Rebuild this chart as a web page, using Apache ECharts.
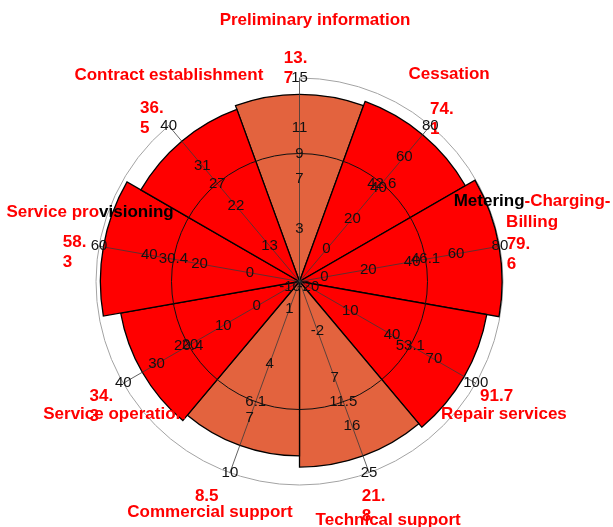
<!DOCTYPE html>
<html>
<head>
<meta charset="utf-8">
<script src="https://cdn.jsdelivr.net/npm/echarts@6/dist/echarts.min.js"></script>
<style>
  html, body { margin: 0; padding: 0; background: #fff; }
  #chart { width: 613px; height: 527px; }
</style>
</head>
<body>
<div id="chart"></div>
<script>
// data, clockwise from the top spoke
const categories = [
  'Preliminary information', 'Cessation', 'Metering-Charging-Billing',
  'Repair services', 'Technical support', 'Commercial support',
  'Service operation', 'Service provisioning', 'Contract establishment'
]
const values = [13.7, 74.1, 79.6, 91.7, 21.8, 8.5, 34.3, 58.3, 36.5]
const ringValues = [9, 42.6, 46.1, 53.1, 11.5, 6.1, 20.4, 30.4, 27]
const axisMax = [15, 80, 80, 100, 25, 10, 40, 60, 40]
const tickLabels = [
  [3, 7, 11, 15],
  [0, 20, 40, 60, 80],
  [0, 20, 40, 60, 80],
  [-20, 10, 40, 70, 100],
  [-2, 7, 16, 25],
  [1, 4, 7, 10],
  [-10, 0, 10, 20, 30, 40],
  [0, 20, 40, 60],
  [13, 22, 31, 40]
]

// layout
const CENTER = [299.5, 281.5]
const R = 203.5
const RING_R = 128
const FONT = "'Liberation Sans', Arial, sans-serif"
const RED = '#ff0000'
const ORANGE = '#e3633e'
const BAR_COLORS = [ORANGE, RED, RED, RED, ORANGE, ORANGE, RED, RED, RED]
// [angle, radius] of each label centre / left anchor
const NAME_POS = [[86.6, 262], [54.2, 255.7], [16.6, 242.7], [-33, 243.8], [-69.6, 254.4],
  [-111.2, 247.6], [-144.3, 227.7], [161.7, 220.6], [122.3, 244.4]]
const VALUE_POS = [[94.2, 213.8], [51.1, 207.9], [7.6, 209], [-32.4, 213.8], [-74.5, 233.2],
  [-116, 238.6], [-149.2, 244.5], [172.9, 238.6], [134.4, 227.8]]
const NO_WRAP = [3, 5]

const polar = []
const angleAxis = []
const radiusAxis = []
const series = []

const boldText = (color) => ({
  color, fontFamily: FONT, fontSize: 17, fontWeight: 'bold', lineHeight: 20
})

categories.forEach((name, i) => {
  const min = ringValues[i] - (axisMax[i] - ringValues[i]) * RING_R / (R - RING_R)
  polar.push({ center: CENTER, radius: [0, R] })
  angleAxis.push({
    polarIndex: i,
    type: 'category',
    data: categories.slice(i).concat(categories.slice(0, i)),
    startAngle: 90 - 40 * i,
    boundaryGap: false,
    axisLine: { show: i === 0, lineStyle: { color: '#a3a3a3', width: 1 } },
    axisTick: { show: false },
    axisLabel: { show: false },
    splitLine: { show: false },
    z: 1
  })
  radiusAxis.push({
    polarIndex: i,
    type: 'value',
    min,
    max: axisMax[i],
    startValue: min,
    axisLine: { lineStyle: { color: '#3a3a3a', width: 0.8 } },
    axisTick: { show: false },
    splitLine: { show: false },
    axisLabel: {
      customValues: tickLabels[i].concat(ringValues[i]),
      margin: 0,
      align: 'center',
      verticalAlign: 'middle',
      color: '#111',
      fontFamily: FONT,
      fontSize: 15,
      formatter: (v) => String(v)
    },
    z: 4
  })
  series.push({
    type: 'bar',
    coordinateSystem: 'polar',
    polarIndex: i,
    data: [values[i]],
    barWidth: '100%',
    itemStyle: { color: BAR_COLORS[i], borderColor: '#000', borderWidth: 1.3 },
    silent: true,
    z: 2
  })
})

// mean ring
polar.push({ center: CENTER, radius: [0, RING_R] })
angleAxis.push({
  polarIndex: polar.length - 1, type: 'value', min: 0, max: 360,
  axisLine: { lineStyle: { color: '#111', width: 1 } },
  axisTick: { show: false }, axisLabel: { show: false }, splitLine: { show: false },
  z: 4
})
radiusAxis.push({ polarIndex: polar.length - 1, type: 'value', show: false })

function addLabel(pos, text, style, z) {
  const idx = polar.length
  polar.push({ center: CENTER, radius: [0, R] })
  angleAxis.push({ polarIndex: idx, type: 'value', min: 0, max: 360, startAngle: pos[0], show: false })
  radiusAxis.push({
    polarIndex: idx, type: 'value', min: 0, max: 1,
    axisLine: { show: false }, axisTick: { show: false },
    axisLabel: { show: false }, splitLine: { show: false },
    name: text, nameLocation: 'end', nameGap: pos[1] - R,
    nameTextStyle: style, z
  })
}

function nameText(name, i) {
  if (i === 2) {
    const [a, b, c] = name.split('-')
    return '{k|' + a + '}{r|-' + b + '-}\n{r|' + c + '}'
  }
  if (i === 7) return '{r|' + name.slice(0, 11) + '}{k|' + name.slice(11) + '}'
  return '{r|' + name + '}'
}

categories.forEach((name, i) => {
  addLabel(NAME_POS[i], nameText(name, i), Object.assign(boldText(RED), {
    align: 'center', verticalAlign: 'middle', lineHeight: 21,
    rich: {
      r: Object.assign(boldText(RED), { lineHeight: 21 }),
      k: Object.assign(boldText('#000'), { lineHeight: 21 })
    }
  }), 5)
  const s = String(values[i])
  addLabel(VALUE_POS[i], NO_WRAP.includes(i) ? s : s.replace('.', '.\n'),
    Object.assign(boldText(RED), { align: 'left', verticalAlign: 'middle' }), 3)
})

const chart = echarts.init(document.getElementById('chart'), null, { renderer: 'canvas' })
chart.setOption({
  animation: false,
  polar,
  angleAxis,
  radiusAxis,
  series
})
</script>
</body>
</html>
